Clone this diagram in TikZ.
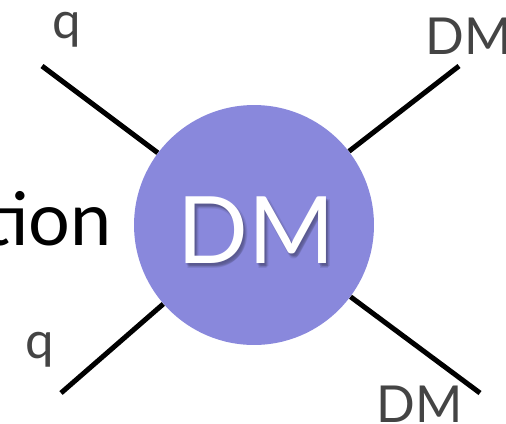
\documentclass[tikz,border=0pt]{standalone}
\usepackage{fontspec}
\setmainfont{Lato}
\definecolor{blobfill}{RGB}{137,136,220}
\definecolor{labelgray}{RGB}{68,68,68}
\begin{document}
\begin{tikzpicture}[x=0.02cm,y=-0.02cm,
	leg/.style={line width=2.85pt},
	blob/.style={circle,fill=blobfill,minimum size=4.8cm,inner sep=0pt},
	ext/.style={text=labelgray,font=\fontsize{29}{29}\selectfont,anchor=base},
	big/.style={font=\fontsize{53}{53}\selectfont,anchor=base}]
	
	\useasboundingbox (0,0) rectangle (506,423);
	
	% the blob and its label (with a soft shadow)
	\node[blob] (v) at (254,225) {};
	\foreach \dx/\dy in {1/2,2/3,3/4,2/5,4/3}
		\node[big,text=black!70!blobfill,opacity=.12] at (256+\dx,263+\dy) {DM};
	\node[big,text=white] (vt) at (256,263) {DM};
	
	% free ends of the legs
	\coordinate (q1) at (42,66);
	\coordinate (q2) at (61,393);
	\coordinate (x1) at (459,66);
	\coordinate (x2) at (480,393);
	
	\draw[leg] (q1) -- (v);
	\draw[leg] (q2) -- (v);
	\draw[leg] (x1) -- (v);
	\draw[leg] (x2) -- (v);
	
	\node[ext] (lq1) at (67,38) {q};
	\node[ext] (lq2) at (40,358) {q};
	\node[ext] (lx1) at (469,54) {DM};
	\node[ext] (lx2) at (420,422) {DM};
	
	\node[anchor=base east,inner sep=0pt,font=\fontsize{42}{42}\selectfont] (word) at (112,245) {tion};
\end{tikzpicture}
\end{document}
